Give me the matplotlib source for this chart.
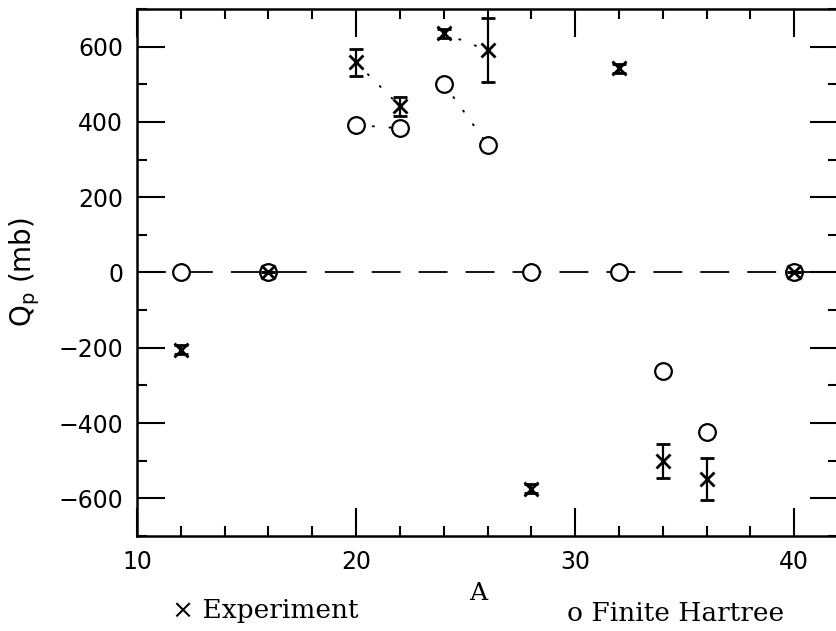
import numpy as np
import matplotlib.pyplot as plt
from matplotlib.ticker import MultipleLocator

# mass number A and quadrupole moments (mb)
a_exp = [12, 16, 20, 22, 24, 26, 28, 32, 34, 36, 40]
q_exp = [-205, 0, 558, 442, 636, 590, -575, 543, -500, -548, 0]
q_err = [12, 0, 35, 25, 12, 85, 12, 12, 45, 56, 0]

a_hf = [12, 16, 20, 22, 24, 26, 28, 32, 34, 36, 40]
q_hf = [0, 0, 392, 383, 502, 340, 0, 0, -262, -425, 0]

# isotope pairs joined by dotted lines
pairs = [(20, 22), (24, 26)]

fig = plt.figure(figsize=(8.37, 6.31), dpi=100)
ax = fig.add_axes([0.1637, 0.1506, 0.8375, 0.8351])

ax.axhline(0, color='black', lw=1.3, dashes=(16, 10), zorder=1)

for p in pairs:
    idx = [a_exp.index(v) for v in p]
    ax.plot([a_exp[i] for i in idx], [q_exp[i] for i in idx], color='black',
            lw=1.4, dashes=(0.6, 8), dash_capstyle='round', zorder=1)
    idx = [a_hf.index(v) for v in p]
    ax.plot([a_hf[i] for i in idx], [q_hf[i] for i in idx], color='black',
            lw=1.4, dashes=(0.6, 8), dash_capstyle='round', zorder=1)

ax.plot(a_hf, q_hf, 'o', ms=12, mfc='white', mec='black', mew=1.6, ls='none', zorder=2)
ax.errorbar(a_exp, q_exp, yerr=q_err, fmt='x', ms=10, mew=2, color='black',
            ecolor='black', elinewidth=1.6, capsize=5, capthick=1.6, zorder=3)

ax.set_xlim(10, 42)
ax.set_ylim(-700, 700)
ax.xaxis.set_major_locator(MultipleLocator(10))
ax.xaxis.set_minor_locator(MultipleLocator(2))
ax.yaxis.set_major_locator(MultipleLocator(200))
ax.yaxis.set_minor_locator(MultipleLocator(100))
ax.tick_params(which='both', direction='in', top=True, right=True, width=1.5)
ax.tick_params(which='major', length=20, labelsize=17, pad=10)
ax.tick_params(which='minor', length=7)
ax.set_yticks(range(-600, 601, 200))
ax.set_yticklabels(['\u2212600', '\u2212400', '\u2212200', '0', '200', '400', '600'])
for lbl in ax.get_xticklabels() + ax.get_yticklabels():
    lbl.set_fontweight('medium')
for s in ax.spines.values():
    s.set_linewidth(1.8)

ax.set_ylabel(r'Q$_\mathregular{p}$ (mb)', fontsize=20, labelpad=12)

fig.text(0.571, 0.060, 'A', fontsize=18, family='DejaVu Serif', ha='center', va='center')
fig.text(0.205, 0.033, '\u00d7 Experiment', fontsize=19, family='DejaVu Serif',
         ha='left', va='center')
fig.text(0.678, 0.028, 'o Finite Hartree', fontsize=19, family='DejaVu Serif',
         ha='left', va='center')

fig.savefig('out.png', dpi=100)
